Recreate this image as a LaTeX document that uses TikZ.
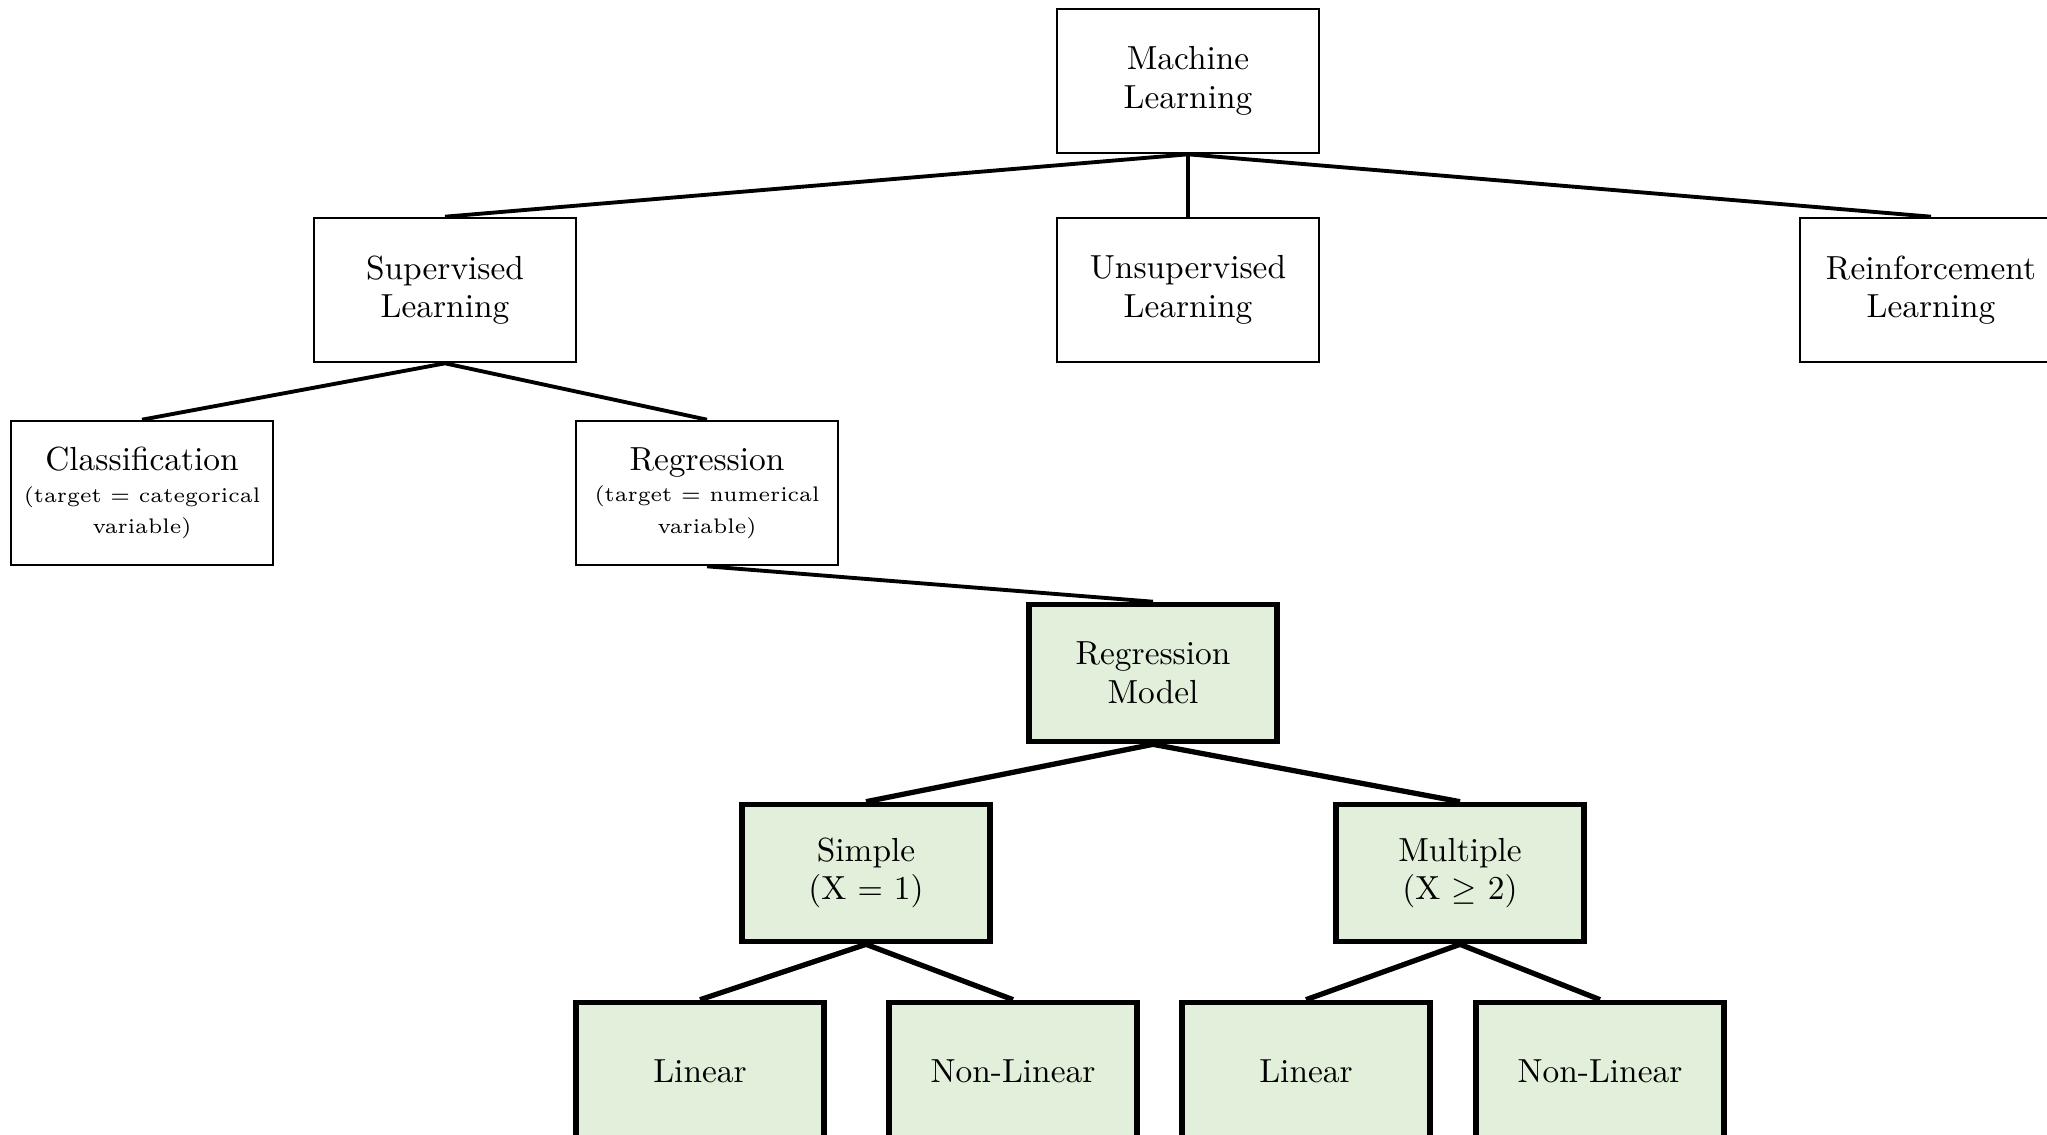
\documentclass[tikz,border=0pt]{standalone}
\usepackage{amsmath}
\definecolor{leafgreen}{HTML}{E2EFDA}

\begin{document}
\begin{tikzpicture}[
    box/.style={draw,line width=0.75pt,minimum width=2.62cm,minimum height=1.44cm,
      align=center,font=\fontsize{9.5}{11}\selectfont},
    greenbox/.style={draw,line width=1.6pt,fill=leafgreen,minimum width=2.48cm,
      minimum height=1.37cm,align=center,font=\fontsize{9.5}{11}\selectfont},
    thinlink/.style={line width=1.1pt},
    thicklink/.style={line width=1.5pt}]
  \useasboundingbox (0,0) rectangle (20.47,-11.34);

  % top levels
  \node[box] (ml) at (11.88,-0.81) {Machine\\Learning};
  \node[box] (sup) at (4.45,-2.90) {Supervised\\Learning};
  \node[box] (unsup) at (11.88,-2.90) {Unsupervised\\Learning};
  \node[box] (rein) at (19.31,-2.90) {Reinforcement\\Learning};
  \node[box] (cls) at (1.42,-4.93)
    {Classification\\[-2pt]{\fontsize{6}{7}\selectfont(target $=$ categorical}\\[-2pt]{\fontsize{6}{7}\selectfont variable)}};
  \node[box] (reg) at (7.07,-4.93)
    {Regression\\[-2pt]{\fontsize{6}{7}\selectfont(target $=$ numerical}\\[-2pt]{\fontsize{6}{7}\selectfont variable)}};

  % regression models
  \node[greenbox] (model) at (11.53,-6.73) {Regression\\Model};
  \node[greenbox] (simple) at (8.66,-8.73) {Simple\\(X $=$ 1)};
  \node[greenbox] (multi) at (14.60,-8.73) {Multiple\\(X $\geq$ 2)};
  \node[greenbox] (lina) at (7.00,-10.71) {Linear};
  \node[greenbox] (nonlina) at (10.13,-10.71) {Non-Linear};
  \node[greenbox] (linb) at (13.06,-10.71) {Linear};
  \node[greenbox] (nonlinb) at (16.00,-10.71) {Non-Linear};

  \draw[thinlink] (ml.south) -- (sup.north);
  \draw[thinlink] (ml.south) -- (unsup.north);
  \draw[thinlink] (ml.south) -- (rein.north);
  \draw[thinlink] (sup.south) -- (cls.north);
  \draw[thinlink] (sup.south) -- (reg.north);
  \draw[thinlink] (reg.south) -- (model.north);
  \draw[thicklink] (model.south) -- (simple.north);
  \draw[thicklink] (model.south) -- (multi.north);
  \draw[thicklink] (simple.south) -- (lina.north);
  \draw[thicklink] (simple.south) -- (nonlina.north);
  \draw[thicklink] (multi.south) -- (linb.north);
  \draw[thicklink] (multi.south) -- (nonlinb.north);
\end{tikzpicture}
\end{document}
